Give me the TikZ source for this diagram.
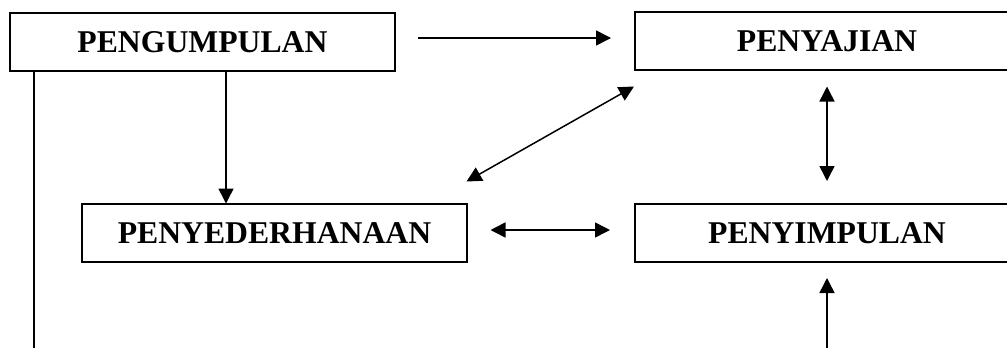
\documentclass[tikz,border=0pt]{standalone}
\usepackage{fontspec}
\setmainfont{Liberation Serif}
\usetikzlibrary{arrows.meta}
\begin{document}
\begin{tikzpicture}[x=1bp,y=-1bp,
  stagebox/.style={draw,line width=2bp,rectangle,inner sep=0pt,outer sep=0pt,
    minimum width=384bp,minimum height=58bp,
    font=\bfseries\fontsize{31.7bp}{38bp}\selectfont,
    text height=21bp,text depth=0bp},
  link/.style={line width=1.5bp},
  arr/.style={link,-{Triangle[length=15bp,width=15bp]}},
  darr/.style={link,{Triangle[length=15bp,width=15bp]}-{Triangle[length=15bp,width=15bp]}}]
  \clip (0,0) rectangle (1007,347);
  \fill[white] (0,0) rectangle (1007,347);

  % stages
  \node[stagebox] (pgm) at (202.5,42)  {PENGUMPULAN};
  \node[stagebox] (pyj) at (827,40.5)  {PENYAJIAN};
  \node[stagebox] (pny) at (274.5,232.5) {PENYEDERHANAAN};
  \node[stagebox] (psm) at (827,233)   {PENYIMPULAN};

  % free ends of the open lines at the bottom
  \coordinate (lb) at (34,352);
  \coordinate (rb) at (827,352);
  \coordinate (dx) at (226,0);

  % connectors
  \draw[arr]  ([shift={(23,-4)}]pgm.east) -- ([shift={(-24,-2.5)}]pyj.west);
  \draw[arr]  (pgm.south -| dx) -- (pny.north -| dx);
  \draw[link] (pgm.south -| lb) -- (lb);
  \draw[darr] ([shift={(0,-22)}]pny.north east) -- ([shift={(-1,17)}]pyj.south west);
  \draw[darr] ([shift={(0,17)}]pyj.south) -- ([shift={(0,-23)}]psm.north);
  \draw[darr] ([shift={(24,-2.5)}]pny.east) -- ([shift={(-25,-3)}]psm.west);
  \draw[arr]  (rb) -- ([shift={(0,16)}]psm.south);
\end{tikzpicture}
\end{document}
